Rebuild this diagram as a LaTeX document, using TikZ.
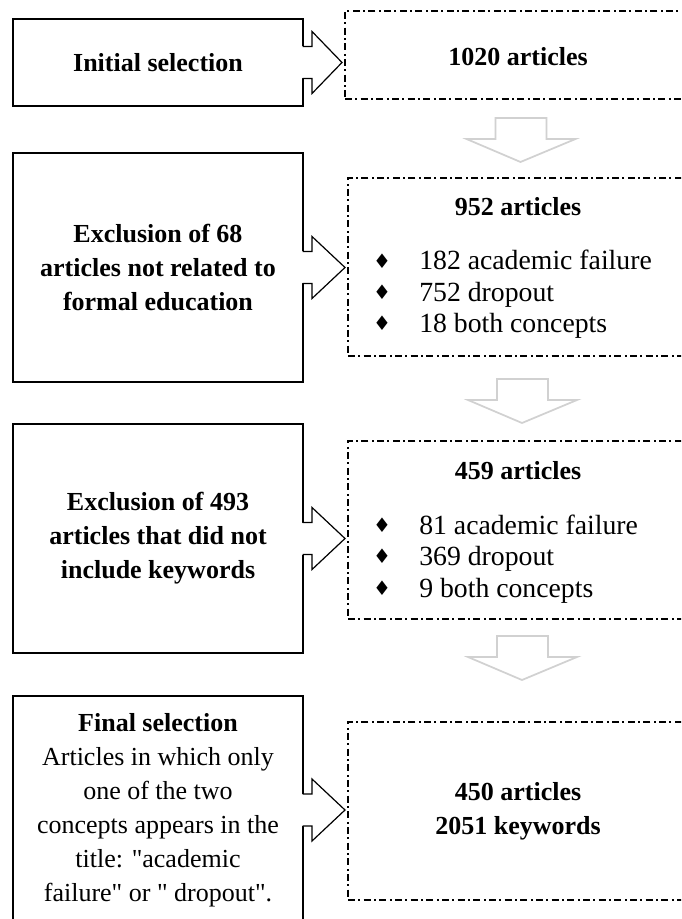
\documentclass[tikz,border=0pt]{standalone}
\usepackage{fontspec}
\setmainfont{Liberation Serif}[Ligatures=TeXOff]
\newfontfamily\dejavu{DejaVu Sans}
\usetikzlibrary{calc}
\tikzset{
  solidbox/.style={draw=black, line width=1.5pt, fill=white, minimum width=217.5pt,
    inner sep=0pt, outer sep=0pt, align=center, font=\bfseries\fontsize{19.5}{25.5}\selectfont},
  dashbox/.style={draw=black, line width=1.1pt, dash pattern=on 5.25pt off 2.6pt on 1.3pt off 2.6pt,
    minimum width=264pt, minimum height=133.5pt, inner sep=0pt, outer sep=0pt},
  boldtxt/.style={inner sep=0pt, align=center, font=\bfseries\fontsize{19.5}{25.5}\selectfont},
  itemtxt/.style={inner sep=0pt, anchor=base west, font=\fontsize{20.8}{23}\selectfont},
  bul/.style={inner sep=0pt, font=\dejavu\fontsize{15}{15}\selectfont},
  arrowline/.style={draw=black, line width=0.9pt, line join=miter, fill=white},
  grayarrow/.style={draw=black!18, line width=1.3pt, line join=miter, fill=white},
}
\newcommand\blockright[2]{%
  \coordinate (tmpS) at (#1.east);
  \coordinate (tmpT) at ($(#2.west |- #1.east)+(-3,0)$);
  \fill[white] ($(tmpS)+(-1.5,-16)$) rectangle ($(tmpS)+(9,16)$);
  \draw[arrowline] ($(tmpS)+(-0.5,-16)$) -- ($(tmpS)+(9,-16)$) -- ($(tmpS)+(9,-31)$)
    -- (tmpT) -- ($(tmpS)+(9,31)$) -- ($(tmpS)+(9,16)$) -- ($(tmpS)+(-0.5,16)$);
}
\newcommand\blockdown[2]{%
  \coordinate (tmpG) at ($(#1.south)+(-2,#2)$);
  \draw[grayarrow] ($(tmpG)+(-25,0)$) -- ($(tmpG)+(26,0)$) -- ($(tmpG)+(26,21)$)
    -- ($(tmpG)+(55,21)$) -- ($(tmpG)+(0,44)$) -- ($(tmpG)+(-54,21)$) -- ($(tmpG)+(-25,21)$) -- cycle;
}
\begin{document}
\begin{tikzpicture}[x=0.75pt,y=-0.75pt]
\clip (0,0) rectangle (681,919);
\fill[white] (0,0) rectangle (681,919);

% left boxes
\node[solidbox, minimum height=65.25pt] (b1) at (158,62.5) {Initial selection};
\node[solidbox, minimum height=171.75pt] (b2) at (158,267.5) {Exclusion of 68\\articles not related to\\formal education};
\node[solidbox, minimum height=171.75pt] (b3) at (158,538.5) {Exclusion of 493\\articles that did not\\include keywords};
\node[solidbox, minimum height=171pt] (b4) at (158,810) {Final selection\\
  \mdseries Articles in which only\\ \mdseries one of the two\\ \mdseries concepts appears in the\\
  \mdseries title: "academic\\ \mdseries failure" or " dropout".};

% dash-dot boxes
\node[dashbox, minimum width=266.25pt, minimum height=66pt] (d1) at (522.5,55) {};
\node[dashbox] (d2) at (524,267) {};
\node[dashbox] (d3) at (524,530) {};
\node[dashbox] (d4) at (524,811) {};

% texts in dash boxes
\node[boldtxt] (t1) at (518,57) {1020 articles};
\node[boldtxt] (t2) at (518,207) {952 articles};
\node[bul] (k21) at (382,261) {♦};
\node[bul] (k22) at (382,292) {♦};
\node[bul] (k23) at (382,323) {♦};
\node[itemtxt] (i21) at (419,270) {182 academic failure};
\node[itemtxt] (i22) at (419,301) {752 dropout};
\node[itemtxt] (i23) at (419,332) {18 both concepts};
\node[boldtxt] (t3) at (518,471) {459 articles};
\node[bul] (k31) at (382,525) {♦};
\node[bul] (k32) at (382,556) {♦};
\node[bul] (k33) at (382,588) {♦};
\node[itemtxt] (i31) at (419,534) {81 academic failure};
\node[itemtxt] (i32) at (419,565) {369 dropout};
\node[itemtxt] (i33) at (419,597) {9 both concepts};
\node[boldtxt] (t4) at (518,811) {450 articles\\2051 keywords};

% right block arrows
\blockright{b1}{d1}
\blockright{b2}{d2}
\blockright{b3}{d3}
\blockright{b4}{d4}

% gray down arrows
\blockdown{d1}{19}
\blockdown{d2}{23}
\blockdown{d3}{17}
\end{tikzpicture}
\end{document}
